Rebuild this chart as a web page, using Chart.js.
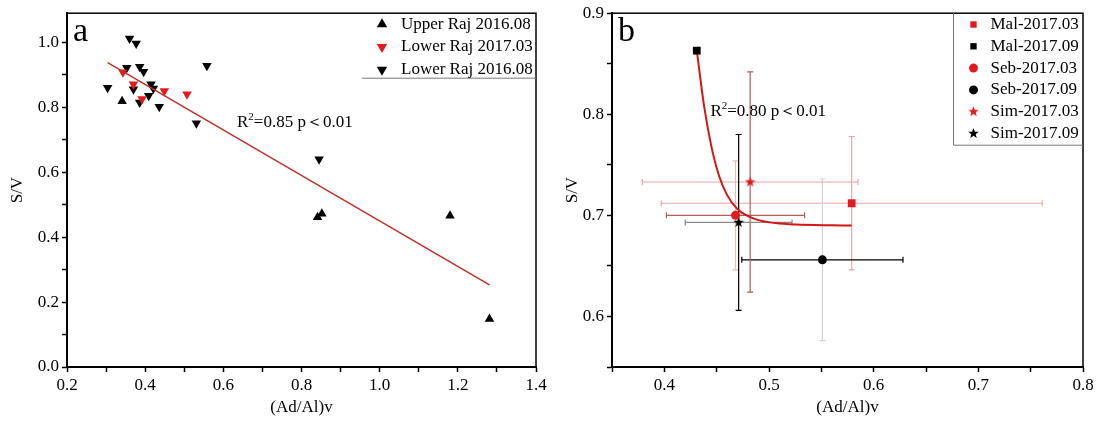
<!DOCTYPE html>
<html>
<head>
<meta charset="utf-8">
<script src="https://cdn.jsdelivr.net/npm/chart.js@4.4.1/dist/chart.umd.min.js"></script>
<style>
  html, body { margin: 0; padding: 0; background: #fff; }
  #wrap { position: relative; width: 1098px; height: 422px; }
  #chartA { position: absolute; left: 0; top: 0; }
  #chartB { position: absolute; left: 550px; top: 0; }
</style>
</head>
<body>
<div id="wrap">
  <canvas id="chartA" width="550" height="422"></canvas>
  <canvas id="chartB" width="548" height="422"></canvas>
</div>
<script>
// ── Panel a: S/V vs (Ad/Al)v ──────────────────────────
const upperRajX  = [0.341, 0.841, 0.852, 1.180, 1.281];
const upperRajY  = [0.819, 0.461, 0.472, 0.466, 0.148];
const lower17X   = [0.343, 0.370, 0.392, 0.449, 0.507];
const lower17Y   = [0.908, 0.871, 0.826, 0.850, 0.840];
const lower16X   = [0.360, 0.377, 0.353, 0.386, 0.396, 0.558, 0.304, 0.370,
                    0.415, 0.421, 0.409, 0.386, 0.436, 0.531, 0.845];
const lower16Y   = [1.012, 0.997, 0.922, 0.925, 0.910, 0.928, 0.860, 0.856,
                    0.871, 0.858, 0.836, 0.815, 0.802, 0.751, 0.640];
const fitAX      = [0.304, 1.281];
const fitAY      = [0.938, 0.253];
const aXLabels   = [0.2, 0.4, 0.6, 0.8, 1.0, 1.2, 1.4];
const aYLabels   = [0.0, 0.2, 0.4, 0.6, 0.8, 1.0];

// ── Panel b: series with error bars ───────────────────
const bNames     = ['Mal-2017.03', 'Mal-2017.09', 'Seb-2017.03', 'Seb-2017.09', 'Sim-2017.03', 'Sim-2017.09'];
const bX         = [0.579, 0.431, 0.468, 0.551, 0.482, 0.471];
const bY         = [0.712, 0.863, 0.700, 0.656, 0.733, 0.693];
const bXErr      = [0.182, 0,     0.066, 0.077, 0.103, 0.051];
const bYErr      = [0.066, 0,     0.054, 0.080, 0.109, 0.087];
const fitBX      = [0.431, 0.438, 0.445, 0.452, 0.460, 0.470, 0.485, 0.510, 0.579];
const fitBY      = [0.863, 0.808, 0.768, 0.740, 0.720, 0.706, 0.697, 0.692, 0.690];
const bXLabels   = [0.4, 0.5, 0.6, 0.7, 0.8];
const bYLabels   = [0.6, 0.7, 0.8, 0.9];

const RED   = '#e41a1c';
const BLACK = '#000000';
const PINK  = '#eaa6a6';
const BROWN = '#b45a5a';
const SERIF = '"Liberation Serif", "Times New Roman", serif';

Chart.defaults.font.family = SERIF;
Chart.defaults.font.size = 17;
Chart.defaults.color = '#000';

const zip = (xs, ys) => xs.map((x, i) => ({ x, y: ys[i] }));
const hasLabel = (list, v) => list.some(l => Math.abs(l - v) < 1e-6);

function starImg(color, r) {
  const c = document.createElement('canvas');
  const s = Math.ceil(r * 2) + 2;
  c.width = c.height = s;
  const g = c.getContext('2d');
  g.fillStyle = color;
  g.beginPath();
  for (let i = 0; i < 10; i++) {
    const rr = i % 2 ? r * 0.42 : r;
    const a = -Math.PI / 2 + i * Math.PI / 5;
    g.lineTo(s / 2 + rr * Math.cos(a), s / 2 + rr * Math.sin(a));
  }
  g.closePath();
  g.fill();
  return c;
}

// error bars / frame / legend / notes
const deco = {
  id: 'deco',
  beforeDatasetsDraw(chart) {
    const ctx = chart.ctx, xs = chart.scales.x, ys = chart.scales.y;
    chart.data.datasets.forEach(ds => {
      if (!ds.xErr) return;
      ds.data.forEach((p, i) => {
        const px = xs.getPixelForValue(p.x), py = ys.getPixelForValue(p.y);
        const cap = 3;
        ctx.save();
        ctx.lineWidth = 1.2;
        if (ds.xErr[i] > 0) {
          const x0 = xs.getPixelForValue(p.x - ds.xErr[i]), x1 = xs.getPixelForValue(p.x + ds.xErr[i]);
          ctx.strokeStyle = ds.xErrColor;
          ctx.beginPath();
          ctx.moveTo(x0, py); ctx.lineTo(x1, py);
          ctx.moveTo(x0, py - cap); ctx.lineTo(x0, py + cap);
          ctx.moveTo(x1, py - cap); ctx.lineTo(x1, py + cap);
          ctx.stroke();
        }
        if (ds.yErr[i] > 0) {
          const y0 = ys.getPixelForValue(p.y - ds.yErr[i]), y1 = ys.getPixelForValue(p.y + ds.yErr[i]);
          ctx.strokeStyle = ds.yErrColor;
          ctx.beginPath();
          ctx.moveTo(px, y0); ctx.lineTo(px, y1);
          ctx.moveTo(px - cap, y0); ctx.lineTo(px + cap, y0);
          ctx.moveTo(px - cap, y1); ctx.lineTo(px + cap, y1);
          ctx.stroke();
        }
        ctx.restore();
      });
    });
  },
  afterDraw(chart, args, opts) {
    const ctx = chart.ctx, a = chart.chartArea, xs = chart.scales.x, ys = chart.scales.y;
    ctx.save();
    // frame
    ctx.strokeStyle = '#000';
    ctx.lineWidth = 1.5;
    ctx.strokeRect(a.left, a.top, a.right - a.left, a.bottom - a.top);

    // panel letter
    ctx.fillStyle = '#000';
    ctx.font = `34px ${SERIF}`;
    ctx.textBaseline = 'alphabetic';
    ctx.textAlign = 'left';
    ctx.fillText(opts.letter, a.left + 6, a.top + 28);

    // R² note
    const n = opts.note;
    let tx = xs.getPixelForValue(n.x);
    const ty = ys.getPixelForValue(n.y);
    ctx.textBaseline = 'middle';
    ctx.font = `17px ${SERIF}`;
    ctx.fillText('R', tx, ty);
    tx += ctx.measureText('R').width;
    ctx.font = `11px ${SERIF}`;
    ctx.fillText('2', tx, ty - 6);
    tx += ctx.measureText('2').width;
    ctx.font = `17px ${SERIF}`;
    ctx.fillText(n.text, tx, ty);

    // legend
    const L = opts.legend;
    const left = a.right - L.width, bottom = a.top + L.height;
    ctx.strokeStyle = L.border;
    ctx.lineWidth = 1;
    ctx.beginPath();
    if (L.leftBorder) { ctx.moveTo(left, a.top); ctx.lineTo(left, bottom); }
    ctx.moveTo(left, bottom); ctx.lineTo(a.right, bottom);
    ctx.stroke();
    const items = chart.data.datasets.filter(d => d.leg !== undefined).sort((p, q) => p.leg - q.leg);
    items.forEach((ds, i) => {
      const y = a.top + L.first + i * L.step;
      ctx.fillStyle = ds.backgroundColor;
      Chart.helpers.drawPoint(ctx, {
        pointStyle: ds.pointStyle, rotation: ds.rotation || 0,
        radius: L.radius, borderWidth: 0
      }, left + L.symX, y);
      ctx.fillStyle = '#000';
      ctx.font = `17px ${SERIF}`;
      ctx.textBaseline = 'middle';
      ctx.fillText(ds.label, left + L.textX, y);
    });
    ctx.restore();
  }
};

function axis(min, max, step, labels, title, fit, isX) {
  return {
    type: 'linear', min, max,
    border: { color: '#000', width: 2 },
    grid: { drawOnChartArea: false, drawTicks: true, tickLength: 5, tickColor: '#000', tickWidth: 1.5 },
    ticks: {
      stepSize: step, includeBounds: false, autoSkip: false, maxRotation: 0, color: '#000', padding: 3,
      callback: v => hasLabel(labels, v) ? v.toFixed(1) : ''
    },
    title: { display: true, text: title, color: '#000', font: { size: 17 }, padding: { top: 2, bottom: 4 } },
    afterFit: s => { if (isX) s.height = fit; else s.width = fit; }
  };
}

// ── Chart a ───────────────────────────────────────────
new Chart(document.getElementById('chartA'), {
  type: 'scatter',
  data: {
    datasets: [
      {
        label: 'fit', data: zip(fitAX, fitAY), showLine: true,
        borderColor: '#c0302a', borderWidth: 1.5, pointRadius: 0
      },
      {
        label: 'Lower Raj 2017.03', leg: 1, data: zip(lower17X, lower17Y),
        pointStyle: 'triangle', rotation: 180, pointRadius: 5.5, borderWidth: 0,
        backgroundColor: RED
      },
      {
        label: 'Upper Raj 2016.08', leg: 0, data: zip(upperRajX, upperRajY),
        pointStyle: 'triangle', rotation: 0, pointRadius: 5.5, borderWidth: 0,
        backgroundColor: BLACK
      },
      {
        label: 'Lower Raj 2016.08', leg: 2, data: zip(lower16X, lower16Y),
        pointStyle: 'triangle', rotation: 180, pointRadius: 5.5, borderWidth: 0,
        backgroundColor: BLACK
      },
    ]
  },
  options: {
    responsive: false,
    animation: false,
    layout: { padding: { top: 12, right: 14, left: 5, bottom: 0 } },
    plugins: {
      legend: { display: false },
      tooltip: { enabled: false },
      deco: {
        letter: 'a',
        note: { x: 0.635, y: 0.752, text: '=0.85 p＜0.01' },
        legend: { width: 174, height: 65, first: 11, step: 22.8, symX: 20, textX: 39, radius: 6, border: '#777', leftBorder: false }
      }
    },
    scales: {
      x: axis(0.2, 1.4, 0.1, aXLabels, '(Ad/Al)v', 55, true),
      y: axis(0.0, 1.09, 0.1, aYLabels, 'S/V', 62, false),
    }
  },
  plugins: [deco]
});

// ── Chart b ───────────────────────────────────────────
const bColors  = [RED, BLACK, RED, BLACK, RED, BLACK];
const bStyles  = ['rect', 'rect', 'circle', 'circle', starImg(RED, 5.5), starImg(BLACK, 5.5)];
const bRadius  = [5.5, 5.5, 4.5, 4.5, 6, 6];
const bXErrCol = [PINK, BLACK, BROWN, BLACK, PINK, '#8a8a8a'];
const bYErrCol = [PINK, BLACK, '#efbcbc', '#d4d4d4', BROWN, BLACK];

const bSets = bNames.map((name, i) => ({
  label: name, leg: i, data: [{ x: bX[i], y: bY[i] }],
  pointStyle: bStyles[i], pointRadius: bRadius[i], borderWidth: 0,
  backgroundColor: bColors[i],
  xErr: [bXErr[i]], yErr: [bYErr[i]], xErrColor: bXErrCol[i], yErrColor: bYErrCol[i]
}));
bSets.push({
  label: 'fit', data: zip(fitBX, fitBY), showLine: true, cubicInterpolationMode: 'monotone',
  borderColor: '#d41616', borderWidth: 2, pointRadius: 0
});

new Chart(document.getElementById('chartB'), {
  type: 'scatter',
  data: { datasets: bSets },
  options: {
    responsive: false,
    animation: false,
    layout: { padding: { top: 12, right: 15, left: 10, bottom: 0 } },
    plugins: {
      legend: { display: false },
      tooltip: { enabled: false },
      deco: {
        letter: 'b',
        note: { x: 0.444, y: 0.8026, text: '=0.80 p＜0.01' },
        legend: { width: 129.5, height: 132, first: 11.3, step: 21.8, symX: 20, textX: 37, radius: 4.5, border: '#777', leftBorder: true }
      }
    },
    scales: {
      x: axis(0.35, 0.8, 0.05, bXLabels, '(Ad/Al)v', 55, true),
      y: axis(0.55, 0.9, 0.05, bYLabels, 'S/V', 52, false),
    }
  },
  plugins: [deco]
});
</script>
</body>
</html>
